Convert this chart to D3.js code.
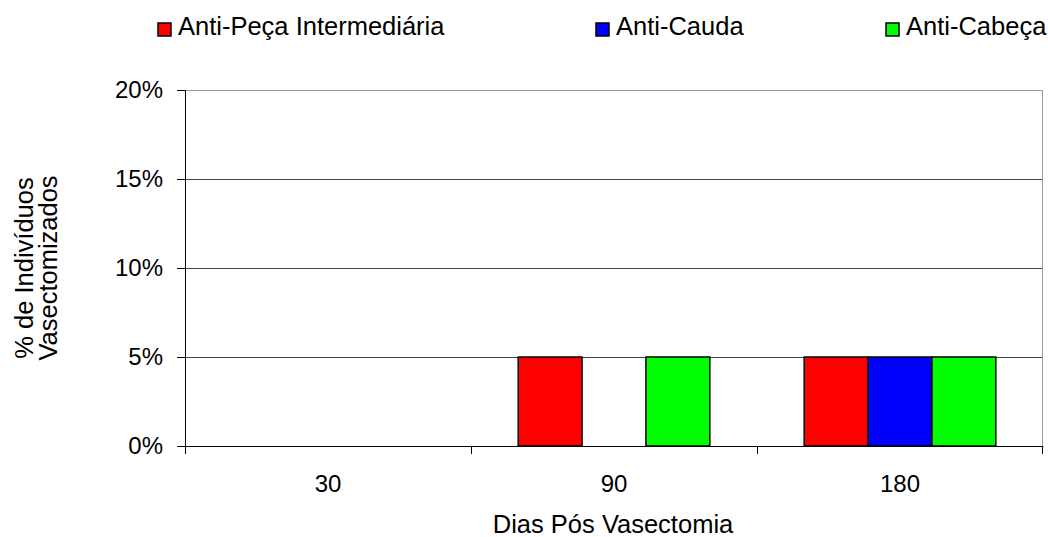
<!DOCTYPE html>
<html>
<head>
<meta charset="utf-8">
<script src="https://cdn.jsdelivr.net/npm/d3@7"></script>
<style>
  body { margin: 0; background: #fff; }
  svg text { font-family: "Liberation Sans", Arial, sans-serif; fill: #000; }
</style>
</head>
<body>
<div id="chart"></div>
<script>
// categories (days after vasectomy) and series values (% of individuals)
const days = ["30", "90", "180"];
const seriesNames = ["Anti-Peça Intermediária", "Anti-Cauda", "Anti-Cabeça"];
const seriesColors = ["#ff0000", "#0000ff", "#00ff00"];
const antiPeca = [0, 0.05, 0.05];
const antiCauda = [0, 0, 0.05];
const antiCabeca = [0, 0.05, 0.05];
const yTicks = [0, 0.05, 0.10, 0.15, 0.20];

const W = 1048, H = 537;
const m = { left: 185, right: 5, top: 90, bottom: 91 };
const innerW = W - m.left - m.right, innerH = H - m.top - m.bottom;

const svg = d3.select("#chart").append("svg").attr("width", W).attr("height", H);
const g = svg.append("g").attr("transform", `translate(${m.left},${m.top})`);

const x0 = d3.scaleBand().domain(days).range([0, innerW]);
const groupW = x0.bandwidth() * 0.67;
const x1 = d3.scaleBand().domain(seriesNames).range([0, groupW]);
const y = d3.scaleLinear().domain([0, 0.2]).range([innerH, 0]);

// gridlines
g.append("g").selectAll("line").data(yTicks.slice(1)).join("line")
  .attr("x1", 0).attr("x2", innerW)
  .attr("y1", d => Math.round(y(d)) + 0.5).attr("y2", d => Math.round(y(d)) + 0.5)
  .attr("stroke", d => d === 0.2 ? "#999" : "#444").attr("stroke-width", 1);
// right border of plot area
g.append("line").attr("x1", innerW - 0.5).attr("x2", innerW - 0.5)
  .attr("y1", 0).attr("y2", innerH).attr("stroke", "#999");

// bars
const rows = days.map((d, i) => ({ day: d, vals: [antiPeca[i], antiCauda[i], antiCabeca[i]] }));
const offset = (x0.bandwidth() - groupW) / 2;
g.append("g").selectAll("g").data(rows).join("g")
  .attr("transform", d => `translate(${x0(d.day) + offset},0)`)
  .selectAll("rect")
  .data(d => d.vals.map((v, k) => ({ v, k })).filter(e => e.v > 0))
  .join("rect")
  .attr("x", e => x1(seriesNames[e.k]))
  .attr("width", x1.bandwidth())
  .attr("y", e => y(e.v))
  .attr("height", e => innerH - y(e.v))
  .attr("fill", e => seriesColors[e.k])
  .attr("stroke", "#000").attr("stroke-width", 1.5);

// y axis
const yAxis = g.append("g")
  .call(d3.axisLeft(y).tickValues(yTicks).tickFormat(d3.format(".0%")).tickSizeOuter(0).tickSize(8).tickPadding(14));
yAxis.select(".domain").attr("stroke", "#000");
yAxis.selectAll("text").style("font-size", "24px").style("font-family", "Liberation Sans, Arial, sans-serif");

// x axis
const xAxis = g.append("g").attr("transform", `translate(0,${innerH})`)
  .call(d3.axisBottom(x0).tickSize(0).tickPadding(29));
xAxis.select(".domain").attr("stroke", "#000");
xAxis.selectAll("text").style("font-size", "24px").style("font-family", "Liberation Sans, Arial, sans-serif");
g.append("g").selectAll("line").data(d3.range(days.length + 1)).join("line")
  .attr("x1", i => Math.round(i * x0.step()) - (i === days.length ? 0.5 : -0.5))
  .attr("x2", i => Math.round(i * x0.step()) - (i === days.length ? 0.5 : -0.5))
  .attr("y1", innerH).attr("y2", innerH + 8).attr("stroke", "#000");

// axis titles
svg.append("text").attr("x", 613).attr("y", 533).attr("text-anchor", "middle")
  .style("font-size", "25.5px").text("Dias Pós Vasectomia");
const yt = svg.append("text").attr("transform", "translate(33,268) rotate(-90)")
  .attr("text-anchor", "middle").style("font-size", "25.5px");
yt.append("tspan").attr("x", 0).attr("dy", 0).text("% de Indivíduos");
yt.append("tspan").attr("x", 0).attr("dy", 24).text("Vasectomizados");

// legend
const legendX = [158, 596, 886];
const lg = svg.append("g").selectAll("g").data(seriesNames).join("g")
  .attr("transform", (d, i) => `translate(${legendX[i]},23)`);
lg.append("rect").attr("width", 13).attr("height", 13)
  .attr("fill", (d, i) => seriesColors[i]).attr("stroke", "#000").attr("stroke-width", 1.5);
lg.append("text").attr("x", 20).attr("y", 12).style("font-size", "25.5px").text(d => d);
</script>
</body>
</html>
